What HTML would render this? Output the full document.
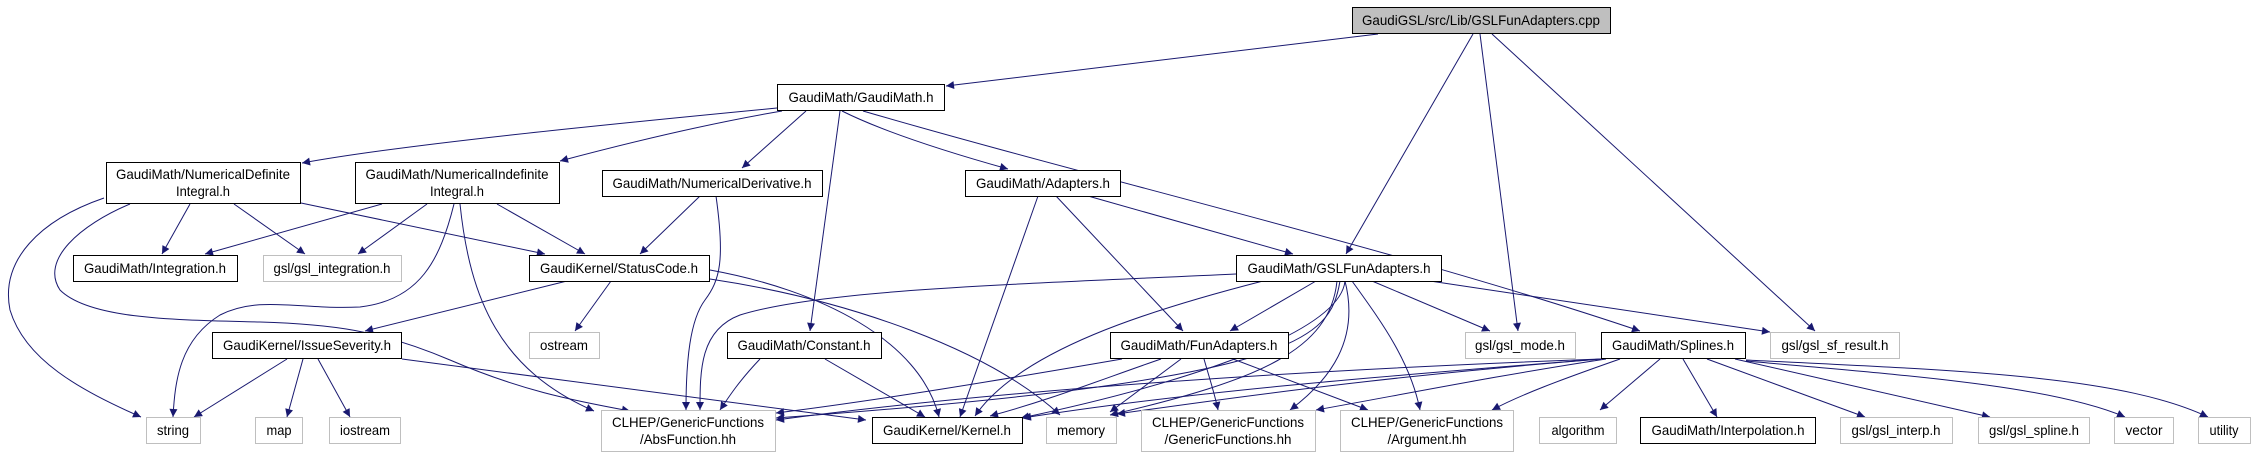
<!DOCTYPE html>
<html><head><meta charset="utf-8"><style>
html,body{margin:0;padding:0;background:#fff;}
svg{display:block;}
text{font-family:"Liberation Sans",sans-serif;font-size:14px;fill:#000;}
</style></head><body>
<svg width="2256" height="459" viewBox="0 0 2256 459" xmlns="http://www.w3.org/2000/svg">
<defs><marker id="a" viewBox="0 0 10 10" refX="10" refY="5" markerWidth="10" markerHeight="8" markerUnits="userSpaceOnUse" orient="auto"><path d="M0,0L10,5L0,10z" fill="#191970"/></marker></defs>
<g fill="none" stroke="#191970" stroke-width="1" marker-end="url(#a)">
<!-- cpp -->
<path d="M1378,34 L946,86"/>
<path d="M1473,34 L1346,254"/>
<path d="M1480,34 L1518,331"/>
<path d="M1492,34 L1815,331"/>
<!-- GaudiMath.h -->
<path d="M777,108 C600,125 400,145 302,163"/>
<path d="M782,111 C700,125 620,145 560,161"/>
<path d="M806,111 L742,168"/>
<path d="M840,111 L810,331"/>
<path d="M842,111 C880,130 940,150 1008,169"/>
<path d="M863,111 C1100,180 1400,250 1640,331"/>
<!-- NumDefInt -->
<path d="M190,204 L162,254"/>
<path d="M234,204 L305,254"/>
<path d="M301,203 L545,254"/>
<path d="M104,198 C40,220 0,260 10,310 C25,360 80,390 141,417"/>
<path d="M130,204 C80,225 40,260 60,290 C90,320 180,320 260,322 C330,324 380,330 450,360 C520,390 570,400 630,411"/>
<!-- NumIndef -->
<path d="M382,204 L205,254"/>
<path d="M427,204 L358,254"/>
<path d="M497,204 L585,254"/>
<path d="M454,204 C440,260 420,300 360,307 C300,310 260,295 220,315 C180,340 175,380 173,417"/>
<path d="M460,204 C470,300 500,370 594,411"/>
<!-- NumDeriv -->
<path d="M700,196 L640,254"/>
<path d="M716,196 C725,260 720,280 705,300 C690,320 686,360 686,410"/>
<!-- StatusCode -->
<path d="M567,281 L365,331"/>
<path d="M611,281 L575,331"/>
<path d="M710,270 C820,290 920,340 939,417"/>
<path d="M710,279 C850,300 990,350 1060,415"/>
<!-- IssueSeverity -->
<path d="M287,359 L194,417"/>
<path d="M303,359 L287,417"/>
<path d="M318,359 L350,417"/>
<path d="M402,359 L866,420"/>
<!-- Constant -->
<path d="M760,359 C740,380 730,395 720,410"/>
<path d="M825,359 L925,417"/>
<!-- Adapters -->
<path d="M1038,196 L960,417"/>
<path d="M1056,196 L1183,331"/>
<path d="M1088,196 L1293,254"/>
<!-- GSLFunAdapters -->
<path d="M1236,274 C1000,285 820,290 740,315 C700,330 700,370 700,410"/>
<path d="M1263,281 C1150,310 1020,350 975,416"/>
<path d="M1316,281 L1230,331"/>
<path d="M1337,281 C1330,350 1260,380 1110,415"/>
<path d="M1345,281 C1360,340 1330,380 1290,410"/>
<path d="M1352,281 C1380,320 1410,360 1420,410"/>
<path d="M1372,281 L1490,331"/>
<path d="M1430,281 L1770,332"/>
<path d="M1345,281 C1340,330 1200,380 1021,418"/>
<path d="M1340,281 C1330,340 1300,380 776,418"/>
<!-- FunAdapters -->
<path d="M1122,359 C1000,380 880,400 776,413"/>
<path d="M1161,359 C1100,380 1050,400 990,416"/>
<path d="M1181,359 L1110,412"/>
<path d="M1204,359 C1210,380 1215,395 1218,410"/>
<path d="M1233,359 L1368,410"/>
<!-- Splines -->
<path d="M1601,359 C1300,370 1000,390 776,420"/>
<path d="M1601,359 C1400,375 1200,390 1023,418"/>
<path d="M1601,359 C1400,375 1250,395 1117,414"/>
<path d="M1606,359 C1500,375 1400,395 1316,410"/>
<path d="M1620,359 C1560,380 1520,395 1492,410"/>
<path d="M1660,359 L1600,410"/>
<path d="M1683,359 L1717,417"/>
<path d="M1707,359 L1865,417"/>
<path d="M1735,359 L1990,417"/>
<path d="M1746,361 C1900,375 2050,385 2125,417"/>
<path d="M1746,360 C1950,370 2120,375 2208,417"/>
</g>
<g stroke-width="1">
<rect x="1352.5" y="7.5" width="258" height="26" fill="#bfbfbf" stroke="#000"/>
<rect x="777.5" y="84.5" width="167" height="26" fill="#fff" stroke="#000"/>
<rect x="106.5" y="162.5" width="194" height="41" fill="#fff" stroke="#000"/>
<rect x="355.5" y="162.5" width="204" height="41" fill="#fff" stroke="#000"/>
<rect x="602.5" y="170.5" width="220" height="26" fill="#fff" stroke="#000"/>
<rect x="965.5" y="170.5" width="155" height="26" fill="#fff" stroke="#000"/>
<rect x="73.5" y="255.5" width="164" height="26" fill="#fff" stroke="#000"/>
<rect x="263.5" y="255.5" width="138" height="26" fill="#fff" stroke="#bfbfbf"/>
<rect x="529.5" y="255.5" width="180" height="26" fill="#fff" stroke="#000"/>
<rect x="1236.5" y="255.5" width="205" height="26" fill="#fff" stroke="#000"/>
<rect x="212.5" y="332.5" width="189" height="26" fill="#fff" stroke="#000"/>
<rect x="529.5" y="332.5" width="70" height="26" fill="#fff" stroke="#bfbfbf"/>
<rect x="727.5" y="332.5" width="154" height="26" fill="#fff" stroke="#000"/>
<rect x="1110.5" y="332.5" width="178" height="26" fill="#fff" stroke="#000"/>
<rect x="1465.5" y="332.5" width="110" height="26" fill="#fff" stroke="#bfbfbf"/>
<rect x="1601.5" y="332.5" width="144" height="26" fill="#fff" stroke="#000"/>
<rect x="1770.5" y="332.5" width="129" height="26" fill="#fff" stroke="#bfbfbf"/>
<rect x="146.5" y="417.5" width="54" height="26" fill="#fff" stroke="#bfbfbf"/>
<rect x="255.5" y="417.5" width="47" height="26" fill="#fff" stroke="#bfbfbf"/>
<rect x="329.5" y="417.5" width="71" height="26" fill="#fff" stroke="#bfbfbf"/>
<rect x="601.5" y="410.5" width="174" height="41" fill="#fff" stroke="#bfbfbf"/>
<rect x="872.5" y="417.5" width="150" height="26" fill="#fff" stroke="#000"/>
<rect x="1046.5" y="417.5" width="70" height="26" fill="#fff" stroke="#bfbfbf"/>
<rect x="1141.5" y="410.5" width="174" height="41" fill="#fff" stroke="#bfbfbf"/>
<rect x="1340.5" y="410.5" width="173" height="41" fill="#fff" stroke="#bfbfbf"/>
<rect x="1539.5" y="417.5" width="77" height="26" fill="#fff" stroke="#bfbfbf"/>
<rect x="1640.5" y="417.5" width="175" height="26" fill="#fff" stroke="#000"/>
<rect x="1840.5" y="417.5" width="112" height="26" fill="#fff" stroke="#bfbfbf"/>
<rect x="1978.5" y="417.5" width="111" height="26" fill="#fff" stroke="#bfbfbf"/>
<rect x="2114.5" y="417.5" width="59" height="26" fill="#fff" stroke="#bfbfbf"/>
<rect x="2198.5" y="417.5" width="52" height="26" fill="#fff" stroke="#bfbfbf"/>
</g>
<g text-anchor="middle" lengthAdjust="spacingAndGlyphs">
<text x="1481" y="25" textLength="238" lengthAdjust="spacingAndGlyphs">GaudiGSL/src/Lib/GSLFunAdapters.cpp</text>
<text x="861" y="102" textLength="145" lengthAdjust="spacingAndGlyphs">GaudiMath/GaudiMath.h</text>
<text x="203" y="179" textLength="174" lengthAdjust="spacingAndGlyphs">GaudiMath/NumericalDefinite</text>
<text x="203" y="196" textLength="54" lengthAdjust="spacingAndGlyphs">Integral.h</text>
<text x="457" y="179" textLength="183" lengthAdjust="spacingAndGlyphs">GaudiMath/NumericalIndefinite</text>
<text x="457" y="196" textLength="54" lengthAdjust="spacingAndGlyphs">Integral.h</text>
<text x="712" y="188" textLength="199" lengthAdjust="spacingAndGlyphs">GaudiMath/NumericalDerivative.h</text>
<text x="1043" y="188" textLength="134" lengthAdjust="spacingAndGlyphs">GaudiMath/Adapters.h</text>
<text x="155" y="273" textLength="142" lengthAdjust="spacingAndGlyphs">GaudiMath/Integration.h</text>
<text x="332" y="273" textLength="117" lengthAdjust="spacingAndGlyphs" fill="#000">gsl/gsl_integration.h</text>
<text x="619" y="273" textLength="158" lengthAdjust="spacingAndGlyphs">GaudiKernel/StatusCode.h</text>
<text x="1339" y="273" textLength="183" lengthAdjust="spacingAndGlyphs">GaudiMath/GSLFunAdapters.h</text>
<text x="307" y="350" textLength="168" lengthAdjust="spacingAndGlyphs">GaudiKernel/IssueSeverity.h</text>
<text x="564" y="350" textLength="48" lengthAdjust="spacingAndGlyphs">ostream</text>
<text x="804" y="350" textLength="133" lengthAdjust="spacingAndGlyphs">GaudiMath/Constant.h</text>
<text x="1199" y="350" textLength="157" lengthAdjust="spacingAndGlyphs">GaudiMath/FunAdapters.h</text>
<text x="1520" y="350" textLength="90" lengthAdjust="spacingAndGlyphs">gsl/gsl_mode.h</text>
<text x="1673" y="350" textLength="122" lengthAdjust="spacingAndGlyphs">GaudiMath/Splines.h</text>
<text x="1835" y="350" textLength="107" lengthAdjust="spacingAndGlyphs">gsl/gsl_sf_result.h</text>
<text x="173" y="435" textLength="32" lengthAdjust="spacingAndGlyphs">string</text>
<text x="279" y="435" textLength="25" lengthAdjust="spacingAndGlyphs">map</text>
<text x="365" y="435" textLength="50" lengthAdjust="spacingAndGlyphs">iostream</text>
<text x="688" y="427" textLength="152" lengthAdjust="spacingAndGlyphs">CLHEP/GenericFunctions</text>
<text x="688" y="444" textLength="96" lengthAdjust="spacingAndGlyphs">/AbsFunction.hh</text>
<text x="947" y="435" textLength="128" lengthAdjust="spacingAndGlyphs">GaudiKernel/Kernel.h</text>
<text x="1081" y="435" textLength="48" lengthAdjust="spacingAndGlyphs">memory</text>
<text x="1228" y="427" textLength="152" lengthAdjust="spacingAndGlyphs">CLHEP/GenericFunctions</text>
<text x="1228" y="444" textLength="127" lengthAdjust="spacingAndGlyphs">/GenericFunctions.hh</text>
<text x="1427" y="427" textLength="152" lengthAdjust="spacingAndGlyphs">CLHEP/GenericFunctions</text>
<text x="1427" y="444" textLength="79" lengthAdjust="spacingAndGlyphs">/Argument.hh</text>
<text x="1578" y="435" textLength="53" lengthAdjust="spacingAndGlyphs">algorithm</text>
<text x="1728" y="435" textLength="153" lengthAdjust="spacingAndGlyphs">GaudiMath/Interpolation.h</text>
<text x="1896" y="435" textLength="89" lengthAdjust="spacingAndGlyphs">gsl/gsl_interp.h</text>
<text x="2034" y="435" textLength="90" lengthAdjust="spacingAndGlyphs">gsl/gsl_spline.h</text>
<text x="2144" y="435" textLength="37" lengthAdjust="spacingAndGlyphs">vector</text>
<text x="2224" y="435" textLength="29" lengthAdjust="spacingAndGlyphs">utility</text>
</g>
</svg>
</body></html>
